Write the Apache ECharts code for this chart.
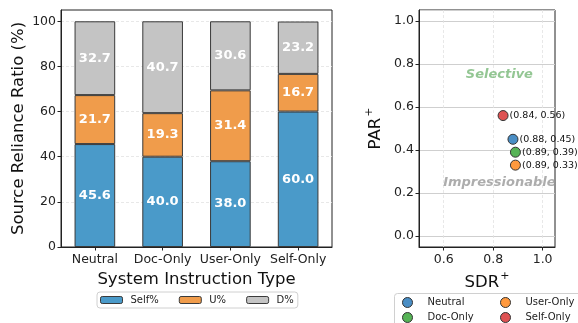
<!DOCTYPE html>
<html>
<head>
<meta charset="utf-8">
<script src="https://cdn.jsdelivr.net/npm/echarts@6/dist/echarts.min.js"></script>
<style>
  html, body { margin: 0; padding: 0; background: #fff; }
  #chart { width: 578px; height: 323px; }
</style>
</head>
<body>
<div id="chart"></div>
<script>
// Source reliance breakdown per system instruction type
const categories = ['Neutral', 'Doc-Only', 'User-Only', 'Self-Only'];
const selfPct = [45.6, 40.0, 38.0, 60.0];
const userPct = [21.7, 19.3, 31.4, 16.7];
const docPct = [32.7, 40.7, 30.6, 23.2];
const barTicks = [0, 20, 40, 60, 80, 100];

// SDR+ / PAR+ per instruction type
const scatterNames = ['Neutral', 'Doc-Only', 'User-Only', 'Self-Only'];
const sdr = [0.88, 0.89, 0.89, 0.84];
const par = [0.45, 0.39, 0.33, 0.56];
const sdrRange = [0.5, 1.05];
const parRange = [-0.05, 1.05];
const sdrTicks = [0.6, 0.8, 1.0];
const parTicks = [0.0, 0.2, 0.4, 0.6, 0.8, 1.0];
const parThreshold = 0.5;
const regionLabels = [
  { text: 'Selective', sdr: 0.825, par: 0.75, color: '#78b878' },
  { text: 'Impressionable', sdr: 0.825, par: 0.25, color: '#999999' }
];

const FONT = 'DejaVu Sans';
const barColors = ['#4a9ac9', '#f09c4b', '#c4c4c4'];
const dotColors = { 'Neutral': '#4a8ec5', 'Doc-Only': '#56b356', 'User-Only': '#ff993e', 'Self-Only': '#de5253' };

const chart = echarts.init(document.getElementById('chart'), null, { renderer: 'canvas' });

function barSeries(name, values, color) {
  return {
    name: name,
    type: 'bar',
    stack: 'total',
    xAxisIndex: 0,
    yAxisIndex: 0,
    barWidth: '60%',
    data: values,
    itemStyle: { color: color, borderColor: '#3a3a3a', borderWidth: 1 },
    label: {
      show: true,
      position: 'inside',
      formatter: p => p.value.toFixed(1),
      color: '#fff',
      fontFamily: FONT,
      fontWeight: 'bold',
      fontSize: 13
    }
  };
}

const scatterSeries = scatterNames.map((n, i) => ({
  name: n,
  type: 'scatter',
  xAxisIndex: 1,
  yAxisIndex: 1,
  symbolSize: 10,
  z: 5,
  data: [[sdr[i], par[i]]],
  itemStyle: { color: dotColors[n], borderColor: '#333', borderWidth: 1, opacity: 1 },
  label: {
    show: true,
    position: 'right',
    distance: 1,
    formatter: p => '(' + p.value[0].toFixed(2) + ', ' + p.value[1].toFixed(2) + ')',
    fontFamily: FONT,
    fontSize: 9.5,
    color: '#111'
  }
}));

const axisTextStyle = () => ({ fontFamily: FONT, fontSize: 12.5, color: '#222' });
const nameStyle = () => ({ fontFamily: FONT, fontSize: 16.5, color: '#111' });
const supNameStyle = () => Object.assign({
  lineHeight: 24,
  rich: { sup: { fontFamily: FONT, fontSize: 11, color: '#111', verticalAlign: 'top', padding: [0, 0, 0, 1] } }
}, nameStyle());
const gridLine = vals => ({ show: true, customValues: vals, lineStyle: { color: '#e2e2e2', type: [3, 2], width: 0.8 } });
const axisLine = () => ({ show: true, onZero: false, lineStyle: { color: '#222', width: 1 } });
const axisTick = vals => ({ show: true, customValues: vals, length: 3.5, lineStyle: { color: '#222' } });

const option = {
  backgroundColor: '#fff',
  animation: false,
  textStyle: { fontFamily: FONT },
  grid: [
    { left: 61, right: 246, top: 10, bottom: 76, show: true, borderColor: '#222', borderWidth: 1 },
    { left: 419, right: 23, top: 10, bottom: 76, show: true, borderColor: '#222', borderWidth: 1 }
  ],
  xAxis: [
    {
      type: 'category', gridIndex: 0, data: categories,
      name: 'System Instruction Type', nameLocation: 'middle', nameGap: 21, nameTextStyle: nameStyle(),
      axisLine: axisLine(), axisTick: { show: true, alignWithLabel: true, length: 3.5, lineStyle: { color: '#222' } },
      axisLabel: Object.assign({ interval: 0, margin: 6 }, axisTextStyle())
    },
    {
      type: 'value', gridIndex: 1, min: sdrRange[0], max: sdrRange[1],
      name: 'SDR{sup|+}', nameLocation: 'middle', nameGap: 14, nameTextStyle: supNameStyle(),
      axisLine: axisLine(),
      axisTick: axisTick(sdrTicks),
      axisLabel: Object.assign({ customValues: sdrTicks, margin: 6, formatter: v => v.toFixed(1) }, axisTextStyle()),
      splitLine: gridLine(sdrTicks)
    }
  ],
  yAxis: [
    {
      type: 'value', gridIndex: 0, min: 0, max: 105,
      name: 'Source Reliance Ratio (%)', nameLocation: 'middle', nameGap: 34, nameTextStyle: nameStyle(),
      axisLine: axisLine(),
      axisTick: axisTick(barTicks),
      axisLabel: Object.assign({ customValues: barTicks, margin: 5 }, axisTextStyle()),
      splitLine: gridLine(barTicks)
    },
    {
      type: 'value', gridIndex: 1, min: parRange[0], max: parRange[1],
      name: 'PAR{sup|+}', nameLocation: 'middle', nameGap: 31, nameTextStyle: supNameStyle(),
      axisLine: axisLine(),
      axisTick: axisTick(parTicks),
      axisLabel: Object.assign({ customValues: parTicks, margin: 5, formatter: v => v.toFixed(1) }, axisTextStyle()),
      splitLine: gridLine(parTicks)
    },
    {
      // PAR+ threshold separating the Selective and Impressionable regions
      type: 'value', gridIndex: 1, position: 'right', min: parRange[0], max: parRange[1],
      axisLine: { show: false },
      axisTick: { show: false },
      axisLabel: { show: false },
      splitLine: { show: true, customValues: [parThreshold], lineStyle: { color: '#cfcfcf', type: 'solid', width: 1 } }
    }
  ],
  legend: [
    {
      data: ['Self%', 'U%', 'D%'],
      left: 97, top: 292,
      itemWidth: 22, itemHeight: 7, itemGap: 20,
      padding: [3, 4, 3, 3],
      borderColor: '#d0d0d0', borderWidth: 1, borderRadius: 3,
      textStyle: { fontFamily: FONT, fontSize: 10, color: '#222', padding: [0, 0, 0, 3] },
      itemStyle: { borderColor: '#3a3a3a', borderWidth: 1 }
    },
    {
      data: ['Neutral', 'Doc-Only'],
      orient: 'vertical', left: 402, top: 297,
      icon: 'circle', itemWidth: 10, itemHeight: 10, itemGap: 4,
      padding: 0,
      textStyle: { fontFamily: FONT, fontSize: 10, color: '#222', padding: [0, 0, 0, 10] },
      itemStyle: { borderColor: '#333', borderWidth: 1 }
    },
    {
      data: ['User-Only', 'Self-Only'],
      orient: 'vertical', left: 500, top: 297,
      icon: 'circle', itemWidth: 10, itemHeight: 10, itemGap: 4,
      padding: 0,
      textStyle: { fontFamily: FONT, fontSize: 10, color: '#222', padding: [0, 0, 0, 10] },
      itemStyle: { borderColor: '#333', borderWidth: 1 }
    }
  ],
  graphic: [
    {
      type: 'rect', left: 394, top: 293, z: 0,
      shape: { width: 200, height: 40, r: 3 },
      style: { fill: '#fff', stroke: '#d0d0d0', lineWidth: 1 }
    }
  ],
  series: [
    barSeries('Self%', selfPct, barColors[0]),
    barSeries('U%', userPct, barColors[1]),
    barSeries('D%', docPct, barColors[2]),
    {
      name: 'regions',
      type: 'scatter',
      xAxisIndex: 1, yAxisIndex: 1,
      symbolSize: 0,
      silent: true,
      z: 3,
      data: regionLabels.map(r => ({
        value: [r.sdr, r.par],
        label: { color: r.color }
      })),
      label: {
        show: true, position: 'inside',
        formatter: p => regionLabels[p.dataIndex].text,
        fontFamily: FONT, fontSize: 13, fontWeight: 'bold', fontStyle: 'italic'
      }
    }
  ].concat(scatterSeries)
};

chart.setOption(option);
</script>
</body>
</html>
